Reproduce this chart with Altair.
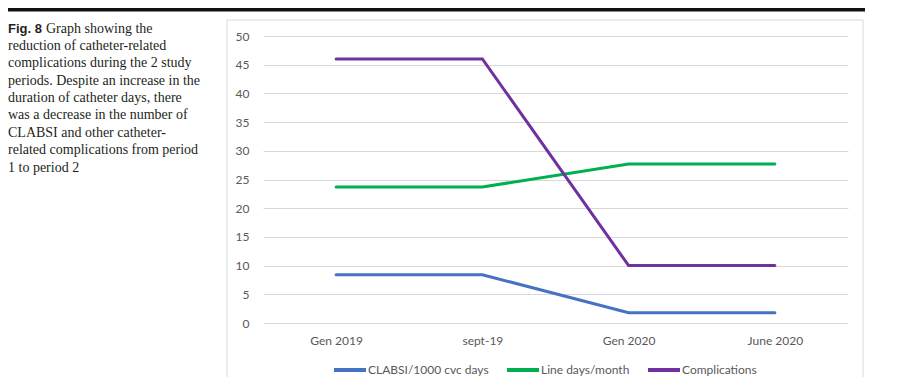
import altair as alt
import pandas as pd

categories = ["Gen 2019", "sept-19", "Gen 2020", "June 2020"]
series_names = ["CLABSI/1000 cvc days", "Line days/month", "Complications"]
clabsi = [8.4, 8.4, 1.8, 1.8]
line_days = [23.7, 23.7, 27.7, 27.7]
complications = [46, 46, 10, 10]
colors = ["#4472C4", "#00B050", "#7030A0"]
y_ticks = [0, 5, 10, 15, 20, 25, 30, 35, 40, 45, 50]

caption_head = "Fig. 8"
caption_first = "Graph showing the"
caption_rest = [
    "reduction of catheter-related",
    "complications during the 2 study",
    "periods. Despite an increase in the",
    "duration of catheter days, there",
    "was a decrease in the number of",
    "CLABSI and other catheter-",
    "related complications from period",
    "1 to period 2",
]

rows = []
for name, vals in zip(series_names, [clabsi, line_days, complications]):
    for c, v in zip(categories, vals):
        rows.append({"period": c, "series": name, "value": v})
df = pd.DataFrame(rows)

one = pd.DataFrame({"k": [0]})

GREY = "#595959"
GRID = "#D9D9D9"

lines = alt.Chart(df).mark_line(strokeWidth=3, strokeCap="round", strokeJoin="miter").encode(
    x=alt.X("period:N", sort=categories, title=None,
            axis=alt.Axis(labelAngle=0, domain=False, ticks=False, grid=False,
                          labelFont="Lato", labelFontSize=12, labelColor=GREY,
                          labelPadding=12)),
    y=alt.Y("value:Q", title=None,
            scale=alt.Scale(domain=[0, 50], nice=False),
            axis=alt.Axis(values=y_ticks, domain=False, ticks=False, grid=True,
                          gridColor=GRID, gridWidth=1,
                          labelFont="Lato", labelFontSize=12, labelColor=GREY,
                          labelPadding=14)),
    color=alt.Color("series:N",
                    scale=alt.Scale(domain=series_names, range=colors),
                    legend=alt.Legend(title=None, orient="none", direction="horizontal",
                                      legendX=69, legendY=316,
                                      symbolType="stroke", symbolSize=1024,
                                      symbolStrokeWidth=4,
                                      labelFont="Lato", labelFontSize=12, labelColor=GREY,
                                      labelOffset=0, columnPadding=10)),
)

frame = alt.Chart(one).mark_rect(fillOpacity=0, stroke=GRID, strokeWidth=1).encode(
    x=alt.value(-36), x2=alt.value(600), y=alt.value(-16), y2=alt.value(360)
)

top_rule = alt.Chart(one).mark_rule(color="#111111", strokeWidth=3.5).encode(
    x=alt.value(-260), x2=alt.value(602), y=alt.value(-26.2)
)

head = alt.Chart(one).mark_text(
    text=caption_head, font="Liberation Sans", fontWeight="bold", fontSize=13,
    align="left", baseline="alphabetic", color="#231F20"
).encode(x=alt.value(-255), y=alt.value(-3.5))

first = alt.Chart(one).mark_text(
    text=caption_first, font="Liberation Serif", fontSize=14,
    align="left", baseline="alphabetic", color="#231F20"
).encode(x=alt.value(-217), y=alt.value(-3.5))

rest = alt.Chart(one).mark_text(
    text=caption_rest, font="Liberation Serif", fontSize=14, lineHeight=17.4,
    align="left", baseline="alphabetic", color="#231F20"
).encode(x=alt.value(-255), y=alt.value(13.9))

chart = alt.layer(frame, top_rule, lines, head, first, rest).properties(
    width=585, height=287,
    autosize=alt.AutoSizeParams(type="none"),
    padding={"left": 255, "top": 28, "right": 43, "bottom": 54},
).configure_view(strokeWidth=0)

chart.save("out.html", embed_options={"renderer": "svg", "actions": False})
